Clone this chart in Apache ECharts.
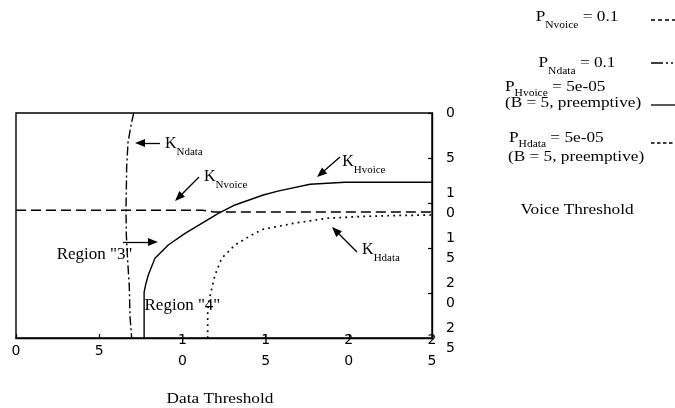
<!DOCTYPE html>
<html><head><meta charset="utf-8">
<script src="https://cdn.jsdelivr.net/npm/echarts@6/dist/echarts.min.js"></script>
<style>html,body{margin:0;padding:0;background:#fff}#c{width:675px;height:408px}</style>
</head><body><div id="c"></div>
<script>
// ---- data ----
const xTicks = [0, 5, 10, 15, 20, 25];
const xTickLabels = ['0', '5', '10', '15', '20', '25'];
const yTicks = [0, 5, 10, 15, 20, 25];
const yTickLabels = ['0', '5', '10', '15', '20', '25'];

const seriesNames = ['K_Nvoice', 'K_Ndata', 'K_Hvoice', 'K_Hdata'];

const nvoiceX = [0, 11.2, 11.9, 25];
const nvoiceY = [10.8, 10.8, 11.0, 11.0];

const ndataX = [7.07, 6.9, 6.73, 6.65, 6.61, 6.63, 6.69, 6.81, 6.85, 6.95];
const ndataY = [0, 1.5, 3.3, 6.0, 10.8, 13.5, 15.8, 19.3, 22.6, 25];

const hvoiceX = [7.7, 7.7, 7.8, 7.95, 8.35, 9.15, 10.16, 11.16, 12.16, 13.16, 14.86, 15.8, 17.67, 19.77, 25];
const hvoiceY = [25, 19.9, 19.0, 18.0, 16.15, 14.67, 13.37, 12.26, 11.15, 10.22, 9.11, 8.65, 7.92, 7.7, 7.7];

const hdataX = [11.52, 11.52, 11.6, 11.7, 11.96, 12.36, 13.16, 14.16, 14.8, 16.67, 18.67, 20.67, 22.67, 25];
const hdataY = [25, 21.9, 20.9, 20.0, 18.0, 16.15, 14.67, 13.55, 12.95, 12.26, 11.7, 11.5, 11.4, 11.33];

const legendLabels = [
  ['{p|P}{s|Nvoice}{p| = 0.1}'],
  ['{p|P}{s|Ndata}{p| = 0.1}'],
  ['{p|P}{t|Hvoice}{p| = 5e-05}', '{p|(B = 5, preemptive)}'],
  ['{p|P}{t|Hdata}{p| = 5e-05}', '{p|(B = 5, preemptive)}']
];

// annotations in data coordinates
const curveLabels = [
  { text: '{k|K}{s|Ndata}', at: [8.95, 3.44] },
  { text: '{k|K}{s|Nvoice}', at: [11.3, 7.1] },
  { text: '{k|K}{s|Hvoice}', at: [19.6, 5.44] },
  { text: '{k|K}{s|Hdata}', at: [20.8, 15.2] }
];
const regionLabels = [
  { text: 'Region "3"', at: [4.72, 15.78] },
  { text: 'Region "4"', at: [10.0, 21.44] }
];
const arrows = [
  { from: [8.65, 3.33], to: [7.15, 3.33] },
  { from: [11.0, 7.11], to: [9.56, 9.78] },
  { from: [19.47, 4.89], to: [18.09, 7.11] },
  { from: [20.49, 15.44], to: [18.99, 12.67] },
  { from: [6.43, 14.33], to: [8.53, 14.33] }
];

// ---- chart ----
const pairs = (xs, ys) => xs.map((x, i) => [x, ys[i]]);
const SERIF = 'Liberation Serif';
const SANS = 'DejaVu Sans';
const SX = 1.15;
const HEAD = [8, 10];

function tickFmt(ticks, labels) {
  return v => {
    const i = ticks.indexOf(v);
    return i < 0 ? '' : labels[i].split('').join('\n');
  };
}

const lineStyles = [
  { type: [10, 5] },
  { type: [9, 3, 2, 3] },
  { type: 'solid' },
  { type: [1.8, 4.2], width: 1.7 }
];
const dataSets = [pairs(nvoiceX, nvoiceY), pairs(ndataX, ndataY), pairs(hvoiceX, hvoiceY), pairs(hdataX, hdataY)];

const series = seriesNames.map((n, i) => ({
  name: n, type: 'line', data: dataSets[i], showSymbol: false, symbol: 'none',
  silent: true, animation: false, z: 3,
  lineStyle: Object.assign({ color: '#000', width: 1.4 }, lineStyles[i])
}));

const richK = {
  k: { fontFamily: SERIF, fontSize: 16, color: '#000' },
  s: { fontFamily: SERIF, fontSize: 11, color: '#000', padding: [16, 0, 0, 0] }
};

series.push({
  id: 'annotations', name: 'annotations', type: 'line', data: [], silent: true, animation: false,
  markLine: {
    silent: true, animation: false,
    symbol: ['none', 'triangle'], symbolSize: HEAD,
    label: { show: false },
    lineStyle: { color: '#000', width: 1.3, type: 'solid' },
    emphasis: { disabled: true },
    data: []
  },
  markPoint: {
    silent: true, animation: false, symbol: 'circle', symbolSize: 0,
    itemStyle: { color: 'transparent' },
    data: curveLabels.map(l => ({
      coord: l.at,
      label: { show: true, position: 'right', distance: 0, formatter: l.text, rich: richK }
    })).concat(regionLabels.map(l => ({
      coord: l.at,
      label: { show: true, position: 'inside', formatter: l.text,
        fontFamily: SERIF, fontSize: 17, color: '#000' }
    })))
  }
});

const graphic = [];
const richP = {
  p: { fontFamily: SERIF, fontSize: 15, fill: '#000' },
  s: { fontFamily: SERIF, fontSize: 10, fill: '#000', padding: [16, 0, 0, 0] },
  t: { fontFamily: SERIF, fontSize: 10, fill: '#000', padding: [12, 0, 0, 0] }
};
const legendText = [
  [{ x: 577, y: 17, align: 'center' }],
  [{ x: 577, y: 63, align: 'center' }],
  [{ x: 505, y: 87, align: 'left' }, { x: 505, y: 103, align: 'left' }],
  [{ x: 509, y: 138, align: 'left' }, { x: 508, y: 157, align: 'left' }]
];
const legendSample = [
  { y: 20, dash: [4, 3] },
  { y: 63, dash: [12, 3, 2, 3, 2, 3] },
  { y: 105, dash: null },
  { y: 143, dash: [3.5, 2.5] }
];
legendLabels.forEach((lines, i) => {
  lines.forEach((t, j) => {
    const p = legendText[i][j];
    graphic.push({ type: 'text', x: p.x, y: p.y, scaleX: SX, silent: true,
      style: { text: t, rich: richP, align: p.align, verticalAlign: 'middle' } });
  });
  const s = legendSample[i];
  graphic.push({ type: 'line', silent: true,
    shape: { x1: 651, y1: s.y, x2: 677, y2: s.y },
    style: { stroke: '#000', lineWidth: 1.3, lineDash: s.dash } });
});
graphic.push({ type: 'text', x: 577, y: 210, scaleX: SX, silent: true,
  style: { text: 'Voice Threshold', fontFamily: SERIF, fontSize: 15, fill: '#000', align: 'center', verticalAlign: 'middle' } });
graphic.push({ type: 'text', x: 220, y: 399, scaleX: SX, silent: true,
  style: { text: 'Data Threshold', fontFamily: SERIF, fontSize: 15, fill: '#000', align: 'center', verticalAlign: 'middle' } });

const axisCommon = {
  type: 'value', min: 0, max: 25, interval: 5,
  axisLine: { show: true, onZero: false, lineStyle: { color: '#000', width: 1.4 } },
  axisTick: { show: true, inside: true, length: 4, lineStyle: { color: '#000', width: 1.2 } },
  splitLine: { show: false },
};

const option = {
  animation: false,
  backgroundColor: '#fff',
  grid: { left: 16, right: 243, top: 113, bottom: 70, containLabel: false, outerBoundsMode: 'none',
    show: true, borderColor: '#000', borderWidth: 1.4, backgroundColor: 'transparent' },
  xAxis: Object.assign({}, axisCommon, {
    position: 'bottom',
    axisLabel: { formatter: tickFmt(xTicks, xTickLabels), margin: 13, verticalAlign: 'middle',
      lineHeight: 21, fontFamily: SANS, fontSize: 14, color: '#000', showMinLabel: true, showMaxLabel: true, hideOverlap: false }
  }),
  yAxis: Object.assign({}, axisCommon, {
    position: 'right', inverse: true,
    axisLabel: { formatter: tickFmt(yTicks, yTickLabels), margin: 14, lineHeight: 20,
      fontFamily: SANS, fontSize: 14, color: '#000', showMinLabel: true, showMaxLabel: true, hideOverlap: false }
  }),
  series: series,
  graphic: graphic
};

const chart = echarts.init(document.getElementById('c'), null, { renderer: 'canvas' });
chart.setOption(option);

// arrow heads: place the triangle so that its tip lands on the measured point
const arrowData = arrows.map(a => {
  const p0 = chart.convertToPixel({ gridIndex: 0 }, a.from);
  const p1 = chart.convertToPixel({ gridIndex: 0 }, a.to);
  const dx = p1[0] - p0[0], dy = p1[1] - p0[1], L = Math.hypot(dx, dy);
  const c = [p1[0] - dx / L * HEAD[1] / 2, p1[1] - dy / L * HEAD[1] / 2];
  return [{ coord: a.from }, { coord: chart.convertFromPixel({ gridIndex: 0 }, c) }];
});
chart.setOption({ series: [{ id: 'annotations', markLine: { data: arrowData } }] });
</script>
</body></html>
